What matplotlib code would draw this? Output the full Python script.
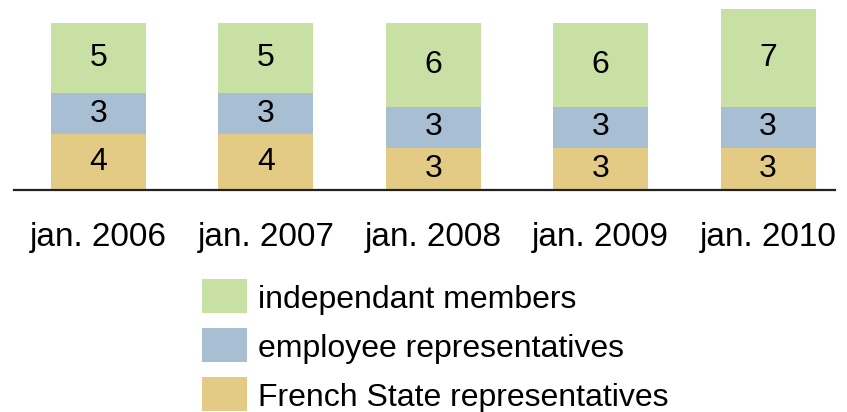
import numpy as np
import matplotlib
matplotlib.use("Agg")
import matplotlib.pyplot as plt
from matplotlib.patches import Rectangle

plt.rcParams['font.family'] = ['Liberation Sans', 'DejaVu Sans']

years = ["jan. 2006", "jan. 2007", "jan. 2008", "jan. 2009", "jan. 2010"]
state = [4, 4, 3, 3, 3]
employees = [3, 3, 3, 3, 3]
independent = [5, 5, 6, 6, 7]

series = [
    ("French State representatives", state, "#e4cb85"),
    ("employee representatives", employees, "#a7bed3"),
    ("independant members", independent, "#c9e0a5"),
]

W, H = 847, 412
fig = plt.figure(figsize=(W / 100, H / 100), dpi=100)

# axes spans from the baseline (190 px from top) to the top edge
base_px = 190
ax = fig.add_axes([0, 1 - base_px / H, 1, base_px / H])
unit = 13.9
ax.set_ylim(0, base_px / unit)
step = 167.4
x0 = 98.5
ax.set_xlim(-x0 / step, (W - x0) / step)

x = np.arange(len(years))
bottom = np.zeros(len(years))
for name, vals, col in series:
    vals = np.array(vals)
    ax.bar(x, vals, width=95 / step, bottom=bottom, color=col, linewidth=0)
    for xi, b, v in zip(x, bottom, vals):
        ax.text(xi, b + v / 2, str(v), ha='center', va='center', fontsize=23, color='black')
    bottom += vals

ax.axhline(0, xmin=14 / W, xmax=835 / W, color='#222222', lw=1.6, clip_on=False)

for s in ax.spines.values():
    s.set_visible(False)
ax.set_yticks([])
ax.set_xticks(x)
ax.set_xticklabels(years, fontsize=24)
ax.tick_params(axis='x', length=0, pad=23)
ax.patch.set_visible(False)

# legend, drawn top to bottom
for i, (name, vals, col) in enumerate(reversed(series)):
    top = 279 + i * 49
    fig.add_artist(Rectangle((202 / W, 1 - (top + 34) / H), 45 / W, 34 / H,
                             transform=fig.transFigure, color=col, lw=0))
    fig.text(258 / W, 1 - (top + 29) / H, name, fontsize=23, va='baseline', ha='left')

fig.savefig("out.png", dpi=100)
